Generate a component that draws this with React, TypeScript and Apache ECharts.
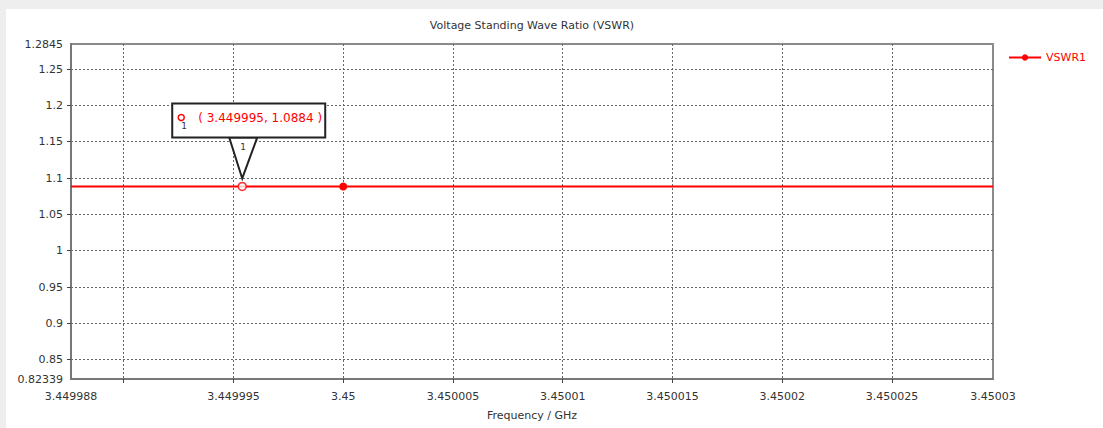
import React, { useEffect, useRef } from 'react';
import * as echarts from 'echarts';

const seriesName = 'VSWR1';
const freqGHz = [3.4499876, 3.45, 3.4500296];
const vswr = [1.0884, 1.0884, 1.0884];
const symbolShown = [false, true, false];

const markerFreq = 3.4499954;
const markerVswr = 1.0884;
const markerLabel = '( 3.449995, 1.0884 )';
const markerId = '1';

const xMin = 3.4499876;
const xMax = 3.4500296;
const xTickValues = [3.44999, 3.449995, 3.45, 3.450005, 3.45001, 3.450015, 3.45002, 3.450025];
const xLabelValues = [3.4499876, 3.449995, 3.45, 3.450005, 3.45001, 3.450015, 3.45002, 3.450025, 3.4500296];

const yMin = 0.82339;
const yMax = 1.2845;
const yTickValues = [0.85, 0.9, 0.95, 1, 1.05, 1.1, 1.15, 1.2, 1.25];
const yLabelValues = [0.82339, 0.85, 0.9, 0.95, 1, 1.05, 1.1, 1.15, 1.2, 1.25, 1.2845];

const FONT = 'DejaVu Sans';
const RED = '#ff0000';

export default function App() {
  const ref = useRef<HTMLDivElement>(null);
  useEffect(() => {
    const el = ref.current;
    if (!el) return;
    const chart = echarts.init(el, null, { renderer: 'svg' });
    const option: any = {
      animation: false,
      backgroundColor: '#ffffff',
      title: {
        text: 'Voltage Standing Wave Ratio (VSWR)',
        left: 532,
        top: 20,
        padding: 0,
        textAlign: 'center',
        textStyle: { fontFamily: FONT, fontSize: 11, fontWeight: 'normal', color: '#333' },
      },
      legend: {
        data: [seriesName],
        left: 1008,
        top: 52,
        padding: 0,
        itemWidth: 32,
        itemHeight: 8,
        textStyle: { color: RED, fontFamily: FONT, fontSize: 11 },
      },
      grid: {
        left: 71,
        right: 110,
        top: 44,
        bottom: 49,
        show: true,
        borderColor: '#8a8a8a',
        borderWidth: 2,
        backgroundColor: 'transparent',
      },
      xAxis: {
        type: 'value',
        min: xMin,
        max: xMax,
        name: 'Frequency / GHz',
        nameLocation: 'middle',
        nameGap: 31,
        nameTextStyle: { fontFamily: FONT, fontSize: 11, color: '#333' },
        axisLine: { show: true, lineStyle: { color: '#777', width: 2 } },
        axisTick: { show: true, customValues: xTickValues, length: 4, lineStyle: { color: '#444' } },
        axisLabel: {
          customValues: xLabelValues,
          formatter: (v: number) => String(parseFloat(v.toFixed(6))),
          margin: 12,
          color: '#333',
          fontFamily: FONT,
          fontSize: 11,
        },
        splitLine: { show: true, lineStyle: { type: [2, 2], color: '#666', width: 1 } },
      },
      yAxis: {
        type: 'value',
        min: yMin,
        max: yMax,
        axisLine: { show: true, lineStyle: { color: '#777', width: 2 } },
        axisTick: { show: true, customValues: yTickValues, length: 4, lineStyle: { color: '#444' } },
        axisLabel: {
          customValues: yLabelValues,
          formatter: (v: number) => String(parseFloat(v.toFixed(5))),
          margin: 8,
          color: '#333',
          fontFamily: FONT,
          fontSize: 11,
        },
        splitLine: { show: true, lineStyle: { type: [2, 2], color: '#666', width: 1 } },
      },
      series: [
        {
          type: 'line',
          name: seriesName,
          data: freqGHz.map((f, i) => ({
            value: [f, vswr[i]],
            symbol: symbolShown[i] ? 'circle' : 'none',
          })),
          symbol: 'circle',
          symbolSize: 8,
          showAllSymbol: true,
          lineStyle: { color: RED, width: 2 },
          itemStyle: { color: RED },
          z: 3,
        },
        {
          type: 'scatter',
          name: 'Marker 1',
          data: [[markerFreq, markerVswr]],
          symbol: 'circle',
          symbolSize: 8,
          itemStyle: { color: '#fff', borderColor: RED, borderWidth: 1.5 },
          z: 4,
        },
      ],
    };
    chart.setOption(option);
    const p = chart.convertToPixel({ gridIndex: 0 }, [markerFreq, markerVswr]) as number[];
    const px = p[0];
    const py = p[1];
    chart.setOption({
      graphic: [
        { type: 'rect', shape: { x: 0, y: 0, width: 1103, height: 9 }, style: { fill: '#eeeeee' }, silent: true },
        { type: 'rect', shape: { x: 0, y: 0, width: 6, height: 428 }, style: { fill: '#eeeeee' }, silent: true },
        {
          type: 'polygon',
          z: 100,
          shape: { points: [[px - 13, py - 49], [px + 15, py - 49], [px, py - 8]] },
          style: { fill: '#fff', stroke: '#222', lineWidth: 2 },
        },
        {
          type: 'text',
          z: 101,
          x: px + 1,
          y: py - 39,
          style: { text: markerId, fill: '#334', font: `9px ${FONT}`, align: 'center', verticalAlign: 'middle' },
        },
        {
          type: 'rect',
          z: 100,
          shape: { x: px - 70, y: py - 83, width: 153, height: 34 },
          style: { fill: '#fff', stroke: '#222', lineWidth: 2 },
        },
        {
          type: 'circle',
          z: 101,
          shape: { cx: px - 61, cy: py - 69, r: 3 },
          style: { fill: '#fff', stroke: RED, lineWidth: 1.5 },
        },
        {
          type: 'text',
          z: 101,
          x: px - 58,
          y: py - 60,
          style: { text: markerId, fill: '#334', font: `9px ${FONT}`, align: 'center', verticalAlign: 'middle' },
        },
        {
          type: 'text',
          z: 101,
          x: px - 44,
          y: py - 68,
          style: { text: markerLabel, fill: RED, font: `12px ${FONT}`, align: 'left', verticalAlign: 'middle' },
        },
      ],
    });
    return () => chart.dispose();
  }, []);
  return (
    <div
      ref={ref}
      style={{ position: 'absolute', left: 0, top: 0, width: 1103, height: 428 }}
    />
  );
}
